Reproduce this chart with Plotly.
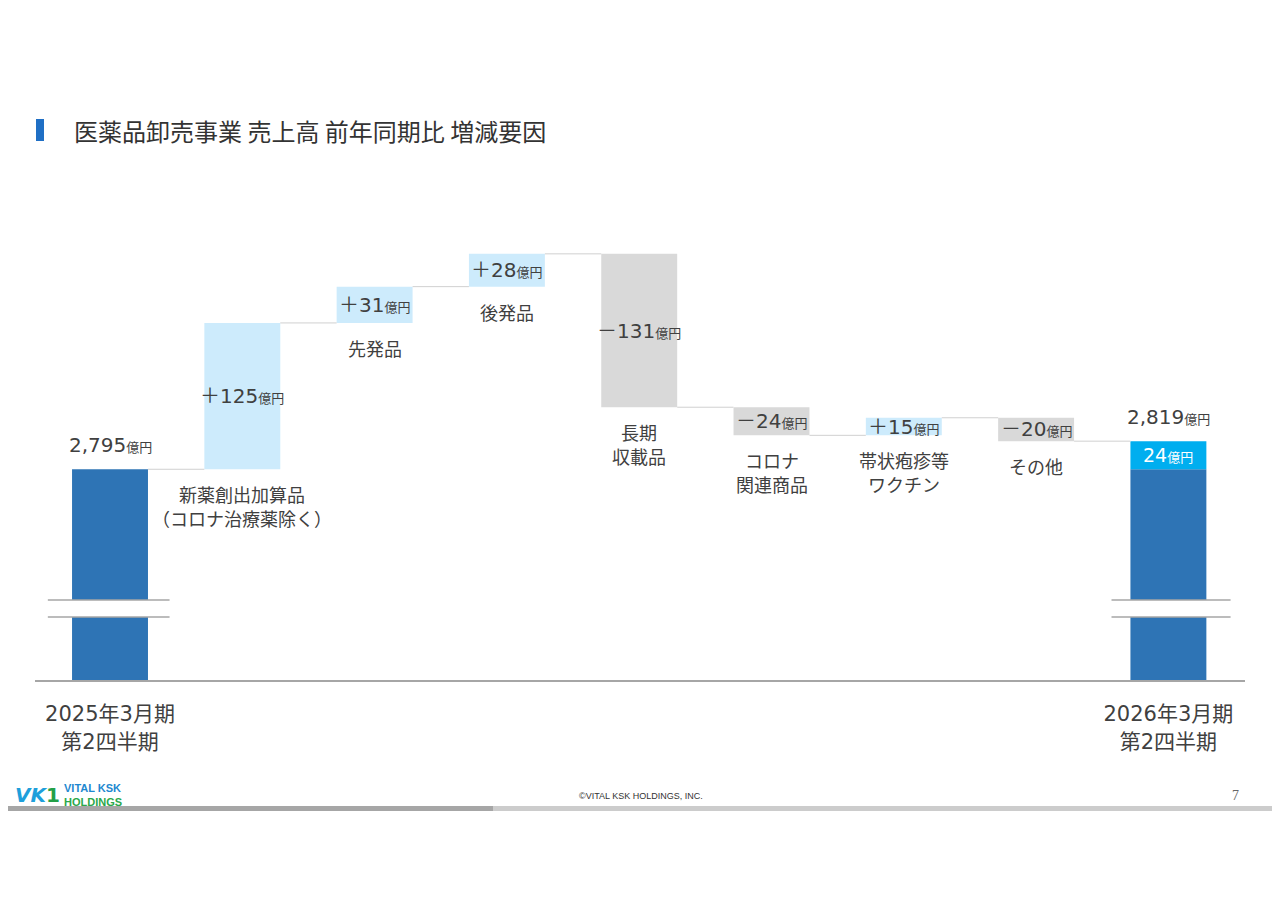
import plotly.graph_objects as go

# ---------------- data ----------------
period_labels = ["2025年3月期<br>第2四半期", "2026年3月期<br>第2四半期"]
factor_labels = ["新薬創出加算品<br>（コロナ治療薬除く）", "先発品", "後発品", "長期<br>収載品",
                 "コロナ<br>関連商品", "帯状疱疹等<br>ワクチン", "その他"]
deltas = [125, 31, 28, -131, -24, 15, -20]
start_total = 2795
end_total = 2819
title_text = "医薬品卸売事業 売上高 前年同期比 増減要因"

# ---------------- style ----------------
W, H = 1280, 905
OFF = 8                       # page body offset
PL, PR, PT, PB = 35, 1245, 200, 680   # plot area in page pixels
PW, PH = PR - PL, PB - PT
ML, MT = PL - OFF, PT - OFF
MR, MB = W - (PR - OFF), H - (PB - OFF)
Y0, Y1 = 2615, 3025           # broken axis: visible value window
BAR_W = 0.574
DARK = "#2E74B5"
LIGHT = "#CDEBFC"
GREY = "#D9D9D9"
CYAN = "#00AEEF"
TXT = "#404040"
FONT = "DejaVu Sans, Noto Sans CJK JP"
JFONT = "Noto Sans CJK JP"
UNIT = '<span style="font-size:13px;font-family:Noto Sans CJK JP">億円</span>'


def px_x(px):
    return (px - PL) / PW


def px_y(py):
    return (PB - py) / PH


n = len(deltas) + 2

# running levels
levels = [start_total]
for d in deltas:
    levels.append(levels[-1] + d)

inc_x, inc_base, inc_y = [], [], []
dec_x, dec_base, dec_y = [], [], []
for i, d in enumerate(deltas):
    lo = min(levels[i], levels[i + 1])
    if d >= 0:
        inc_x.append(i + 1); inc_base.append(lo); inc_y.append(abs(d))
    else:
        dec_x.append(i + 1); dec_base.append(lo); dec_y.append(abs(d))

fig = go.Figure()
fig.add_trace(go.Bar(x=[0, n - 1], y=[start_total - Y0, start_total - Y0], base=[Y0, Y0],
                     marker=dict(color=DARK, line=dict(width=0)), width=BAR_W, hoverinfo="skip"))
fig.add_trace(go.Bar(x=[n - 1], y=[end_total - start_total], base=[start_total],
                     marker=dict(color=CYAN, line=dict(width=0)), width=BAR_W, hoverinfo="skip"))
fig.add_trace(go.Bar(x=inc_x, y=inc_y, base=inc_base,
                     marker=dict(color=LIGHT, line=dict(width=0)), width=BAR_W, hoverinfo="skip"))
fig.add_trace(go.Bar(x=dec_x, y=dec_y, base=dec_base,
                     marker=dict(color=GREY, line=dict(width=0)), width=BAR_W, hoverinfo="skip"))

shapes = []
# connectors
for i in range(n - 1):
    lvl = levels[i] if i < len(levels) else end_total
    shapes.append(dict(type="line", xref="x", yref="y", x0=i + BAR_W / 2, x1=i + 1 - BAR_W / 2,
                       y0=lvl, y1=lvl, line=dict(color="#D0D0D0", width=1)))

# axis break marks
for xi, (l_ext, r_ext) in zip([0, n - 1], [(0.47, 0.45), (0.43, 0.47)]):
    yb_lo, yb_hi = px_y(617), px_y(600)
    shapes.append(dict(type="rect", xref="x", yref="paper", x0=xi - BAR_W / 2 - 0.01, x1=xi + BAR_W / 2 + 0.01,
                       y0=yb_lo, y1=yb_hi, fillcolor="white", line=dict(width=0), layer="above"))
    for yy in (yb_lo, yb_hi):
        shapes.append(dict(type="line", xref="x", yref="paper", x0=xi - l_ext, x1=xi + r_ext,
                           y0=yy, y1=yy, line=dict(color="#A6A6A6", width=1.5), layer="above"))

# title marker
shapes.append(dict(type="rect", xref="paper", yref="paper", x0=px_x(36), x1=px_x(44),
                   y0=px_y(141), y1=px_y(119), fillcolor="#1F6FC5", line=dict(width=0)))
# footer bars
shapes.append(dict(type="rect", xref="paper", yref="paper", x0=px_x(0), x1=px_x(493),
                   y0=px_y(811), y1=px_y(806), fillcolor="#A6A6A6", line=dict(width=0)))
shapes.append(dict(type="rect", xref="paper", yref="paper", x0=px_x(493), x1=px_x(1280),
                   y0=px_y(811), y1=px_y(806), fillcolor="#CCCCCC", line=dict(width=0)))

ann = []


def num_label(v, sign):
    s = f"{abs(v):,}"
    if sign:
        s = ("＋" if v >= 0 else "－") + s
    return s


# totals labels above bars
ann.append(dict(x=0, y=start_total, xref="x", yref="y", yanchor="bottom", yshift=10,
                text=num_label(start_total, False) + UNIT, showarrow=False,
                font=dict(size=20, color=TXT, family=FONT)))
ann.append(dict(x=n - 1, y=end_total, xref="x", yref="y", yanchor="bottom", yshift=10,
                text=num_label(end_total, False) + UNIT, showarrow=False,
                font=dict(size=20, color=TXT, family=FONT)))
# diff inside cyan segment
ann.append(dict(x=n - 1, y=(start_total + end_total) / 2, xref="x", yref="y",
                text=num_label(end_total - start_total, False) + UNIT, showarrow=False,
                font=dict(size=19, color="white", family=FONT)))

# delta labels + category labels (one annotation per line)
for i, d in enumerate(deltas):
    lo = min(levels[i], levels[i + 1])
    mid = (levels[i] + levels[i + 1]) / 2
    ann.append(dict(x=i + 1, y=mid, xref="x", yref="y", text=num_label(d, True) + UNIT,
                    showarrow=False, font=dict(size=20, color=TXT, family=FONT)))
    for k, line in enumerate(factor_labels[i].split("<br>")):
        ann.append(dict(x=i + 1, y=lo, xref="x", yref="y", yanchor="top", yshift=-11 - 24 * k,
                        text=line, showarrow=False, borderpad=0,
                        font=dict(size=18, color=TXT, family=JFONT)))

# title
ann.append(dict(x=px_x(72), y=px_y(130), xref="paper", yref="paper", xanchor="left", yanchor="middle",
                text=title_text, showarrow=False, font=dict(size=24, color="#333333", family=JFONT)))
# footer logo
ann.append(dict(x=px_x(14), y=px_y(795), xref="paper", yref="paper", xanchor="left", yanchor="middle",
                text='<b><i>VK</i></b><span style="color:#23A047"><b>1</b></span>', showarrow=False,
                borderpad=0, font=dict(size=20, color="#1E9FDB", family="DejaVu Sans")))
ann.append(dict(x=px_x(63), y=px_y(795), xref="paper", yref="paper", xanchor="left", yanchor="middle",
                text='<b>VITAL KSK</b><br><span style="color:#2AA84A"><b>HOLDINGS</b></span>',
                showarrow=False, borderpad=0, align="left",
                font=dict(size=11, color="#1E88D0", family="Liberation Sans")))
ann.append(dict(x=px_x(641), y=px_y(796), xref="paper", yref="paper", xanchor="center", yanchor="middle",
                text='©VITAL KSK HOLDINGS, INC.', showarrow=False,
                font=dict(size=9, color="#333333", family="Liberation Sans")))
ann.append(dict(x=px_x(1235), y=px_y(795), xref="paper", yref="paper", xanchor="center", yanchor="middle",
                text='7', showarrow=False,
                font=dict(size=14, color="#666666", family="Liberation Serif")))

fig.update_layout(
    width=W, height=H,
    margin=dict(l=ML, r=MR, t=MT, b=MB, autoexpand=False),
    paper_bgcolor="white", plot_bgcolor="white",
    showlegend=False, barmode="overlay",
    shapes=shapes, annotations=ann,
    xaxis=dict(range=[-0.567, n - 1 + 0.579], tickmode="array", tickvals=[0, n - 1],
               ticktext=period_labels, showgrid=False, zeroline=False,
               showline=True, linecolor="#A6A6A6", linewidth=2, ticks="",
               tickfont=dict(size=21, color=TXT, family=FONT), ticklabelstandoff=14),
    yaxis=dict(range=[Y0, Y1], visible=False, showgrid=False, zeroline=False),
)

fig.write_html("out.html")
